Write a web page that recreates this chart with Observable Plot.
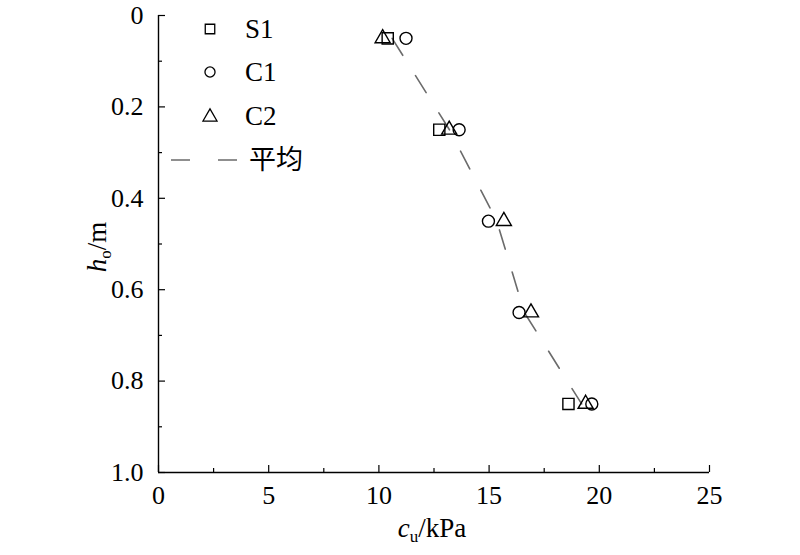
<!DOCTYPE html>
<html><head><meta charset="utf-8">
<script src="https://cdn.jsdelivr.net/npm/d3@7"></script>
<script src="https://cdn.jsdelivr.net/npm/@observablehq/plot@0.6"></script>
<style>
body{margin:0;background:#fff;}
#wrap{position:relative;width:800px;height:555px;font-family:"Liberation Serif","Times New Roman","DejaVu Serif",serif;}
#legend{position:absolute;left:0;top:0;}
</style></head><body><div id="wrap"></div>
<script>
const depths = [0.05, 0.25, 0.45, 0.65, 0.85];
const s1 = [10.4, 12.74, null, null, 18.6];
const c1 = [11.23, 13.64, 14.97, 16.36, 19.66];
const c2 = [10.17, 13.19, 15.67, 16.9, 19.38];
const avg = [10.6, 13.2, 15.35, 16.6, 19.2];
const xTicks = [0, 5, 10, 15, 20, 25];
const xMinor = [2.5, 7.5, 12.5, 17.5, 22.5];
const yTicks = [0, 0.2, 0.4, 0.6, 0.8, 1.0];
const yMinor = [0.1, 0.3, 0.5, 0.7, 0.9];
const seriesNames = ["S1", "C1", "C2", "平均"];

const rows = arr => depths.map((h, i) => ({h, v: arr[i]})).filter(d => d.v != null);
const FONT = '"Liberation Serif","Times New Roman","DejaVu Serif","Noto Sans CJK SC",serif';
const mk = {stroke: "black", strokeWidth: 1.4, fill: "none"};

const chart = Plot.plot({
  width: 800, height: 555,
  marginLeft: 158, marginRight: 91, marginTop: 15, marginBottom: 83,
  style: {fontFamily: FONT, fontSize: "26px", color: "black", background: "white"},
  x: {domain: [0, 25]},
  y: {domain: [0, 1], reverse: true},
  marks: [
    Plot.ruleX([0], {stroke: "black", strokeWidth: 1.4}),
    Plot.ruleY([1], {stroke: "black", strokeWidth: 1.4}),
    Plot.axisX(xTicks, {anchor: "bottom", tickSize: -7, tickPadding: 20, label: null, tickFormat: d => String(d), strokeWidth: 1.2}),
    Plot.axisX(xMinor, {anchor: "bottom", tickSize: -4, label: null, tickFormat: () => "", strokeWidth: 1.2}),
    Plot.axisY(yTicks, {anchor: "left", tickSize: -7, tickPadding: 22, label: null, tickFormat: d => d === 0 ? "0" : d.toFixed(1), strokeWidth: 1.2}),
    Plot.axisY(yMinor, {anchor: "left", tickSize: -4, label: null, tickFormat: () => "", strokeWidth: 1.2}),
    Plot.line(rows(avg), {x: "v", y: "h", stroke: "#6b6b6b", strokeWidth: 1.6, strokeDasharray: "20,24"}),
    Plot.dot(rows(s1), {x: "v", y: "h", symbol: "square", r: 6.3, ...mk}),
    Plot.dot(rows(c1), {x: "v", y: "h", symbol: "circle", r: 6, ...mk}),
    Plot.dot(rows(c2), {x: "v", y: "h", symbol: "triangle", r: 5.6, ...mk})
  ]
});

document.getElementById("wrap").appendChild(chart);
const svg = d3.select(chart);
// enforce tick label font (serif, larger) on every Plot-generated text
svg.selectAll("text").attr("font-family", FONT).attr("font-size", 26).style("font-family", FONT).style("font-size", "26px");

// axis titles with italic + subscript
const yt = svg.append("text").attr("transform", "translate(106,247) rotate(-90)")
  .attr("text-anchor", "middle").style("font-size", "27px").style("font-family", FONT).attr("fill", "black");
yt.append("tspan").attr("font-style", "italic").text("h");
yt.append("tspan").style("font-size", "17px").attr("dy", 5).text("o");
yt.append("tspan").attr("dy", -5).text("/m");

const xt = svg.append("text").attr("x", 432).attr("y", 537)
  .attr("text-anchor", "middle").style("font-size", "27px").style("font-family", FONT).attr("fill", "black");
xt.append("tspan").attr("font-style", "italic").text("c");
xt.append("tspan").style("font-size", "17px").attr("dy", 5).text("u");
xt.append("tspan").attr("dy", -5).text("/kPa");

// legend
const lg = d3.select("#wrap").append("svg").attr("id", "legend").attr("width", 800).attr("height", 555);
const rowY = [29, 72, 116, 160];
const sym = [d3.symbolSquare, d3.symbolCircle, d3.symbolTriangle];
const symSize = [90, 80, 85];
sym.forEach((s, i) => {
  lg.append("path").attr("d", d3.symbol(s, symSize[i])())
    .attr("transform", `translate(210,${rowY[i] + (i === 2 ? 1 : 0)})`)
    .attr("fill", "none").attr("stroke", "black").attr("stroke-width", 1.3);
});
lg.append("line").attr("x1", 171).attr("x2", 238).attr("y1", rowY[3]).attr("y2", rowY[3])
  .attr("stroke", "#6b6b6b").attr("stroke-width", 1.6).attr("stroke-dasharray", "19,28");
seriesNames.forEach((n, i) => {
  lg.append("text").attr("x", i === 3 ? 249 : 245).attr("y", rowY[i]).attr("dy", "0.35em")
    .style("font-size", "27px").style("font-family", FONT).attr("fill", "black").text(n);
});
</script></body></html>
